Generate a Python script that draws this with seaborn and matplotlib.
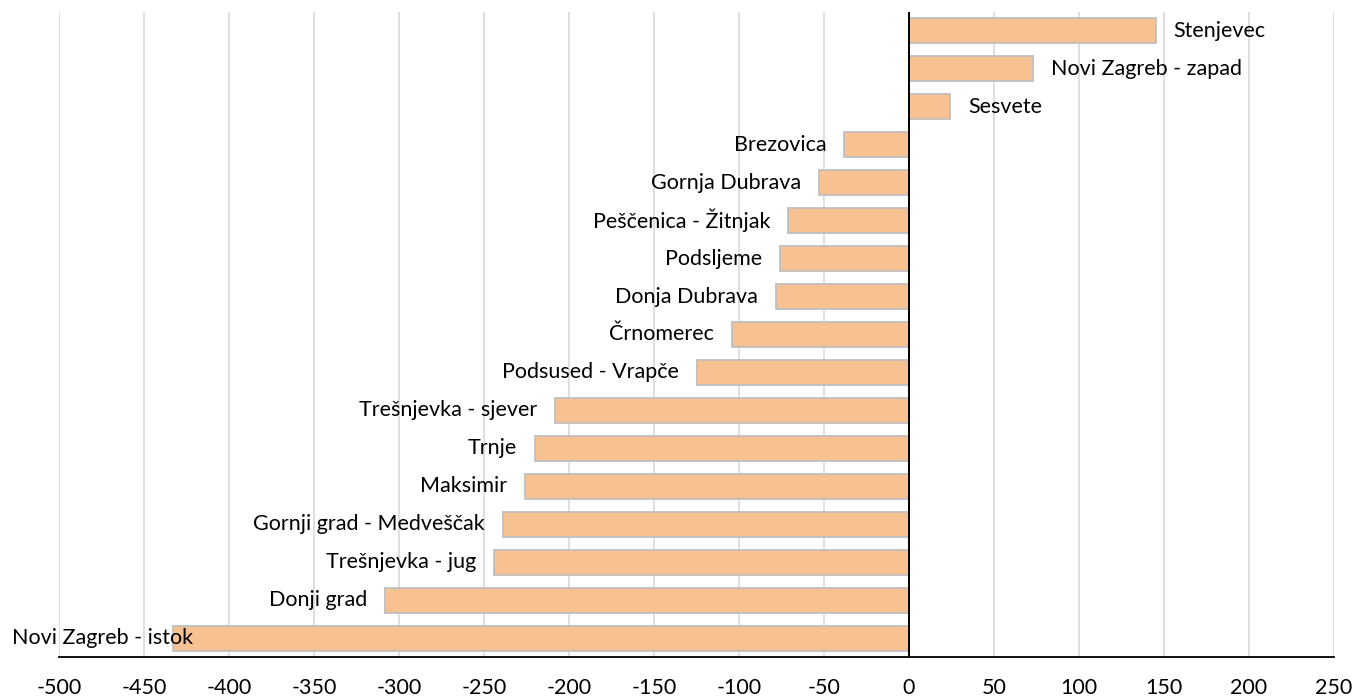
import pandas as pd
import matplotlib.pyplot as plt
import seaborn as sns

# Zagreb districts, change values
districts = [
    'Stenjevec', 'Novi Zagreb - zapad', 'Sesvete', 'Brezovica', 'Gornja Dubrava',
    'Peščenica - Žitnjak', 'Podsljeme', 'Donja Dubrava', 'Črnomerec',
    'Podsused - Vrapče', 'Trešnjevka - sjever', 'Trnje', 'Maksimir',
    'Gornji grad - Medveščak', 'Trešnjevka - jug', 'Donji grad', 'Novi Zagreb - istok',
]
values = [145, 73, 24, -38, -53, -71, -76, -78, -104, -125, -208, -220, -226,
          -239, -244, -308, -433]
x_ticks = list(range(-500, 251, 50))

df = pd.DataFrame({'district': districts, 'value': values})

sns.set_style('white')
plt.rcParams['font.family'] = ['Lato', 'DejaVu Sans']
plt.rcParams['text.color'] = 'black'
plt.rcParams['xtick.color'] = 'black'

FS = 15.5

fig = plt.figure(figsize=(13.54, 6.97), dpi=100)
ax = fig.add_axes([59 / 1354, 1 - 657 / 697, 1275 / 1354, 645 / 697])

sns.barplot(data=df, x='value', y='district', orient='h', ax=ax,
            color='#F8C191', edgecolor='#BFBFBF', linewidth=1.3,
            width=0.66, saturation=1)

ax.set_xlim(-500, 250)
ax.set_xticks(x_ticks)
ax.set_xticklabels([str(t) for t in x_ticks], fontsize=FS)
ax.set_yticks([])
ax.set_xlabel('')
ax.set_ylabel('')
ax.xaxis.grid(True, color='#D9D9D9', linewidth=1.2)
ax.set_axisbelow(True)
ax.axvline(0, color='black', linewidth=1.4)

for s in ['top', 'right', 'left']:
    ax.spines[s].set_visible(False)
ax.spines['bottom'].set_color('black')
ax.spines['bottom'].set_linewidth(1.3)
ax.tick_params(axis='x', direction='out', length=6, width=1.3, color='black', pad=9)

# labels at bar ends
for i, (name, v) in enumerate(zip(districts, values)):
    if v >= 0:
        ax.annotate(name, (v, i), xytext=(13, 0), textcoords='offset points',
                    ha='left', va='center', fontsize=FS)
    elif i == len(values) - 1:
        # no room left of the longest bar: label pushed to the chart edge
        ax.annotate(name, (12 / 1354, i), xycoords=('figure fraction', 'data'),
                    ha='left', va='center', fontsize=FS)
    else:
        ax.annotate(name, (v, i), xytext=(-13, 0), textcoords='offset points',
                    ha='right', va='center', fontsize=FS)

fig.savefig('out.png', dpi=100)
